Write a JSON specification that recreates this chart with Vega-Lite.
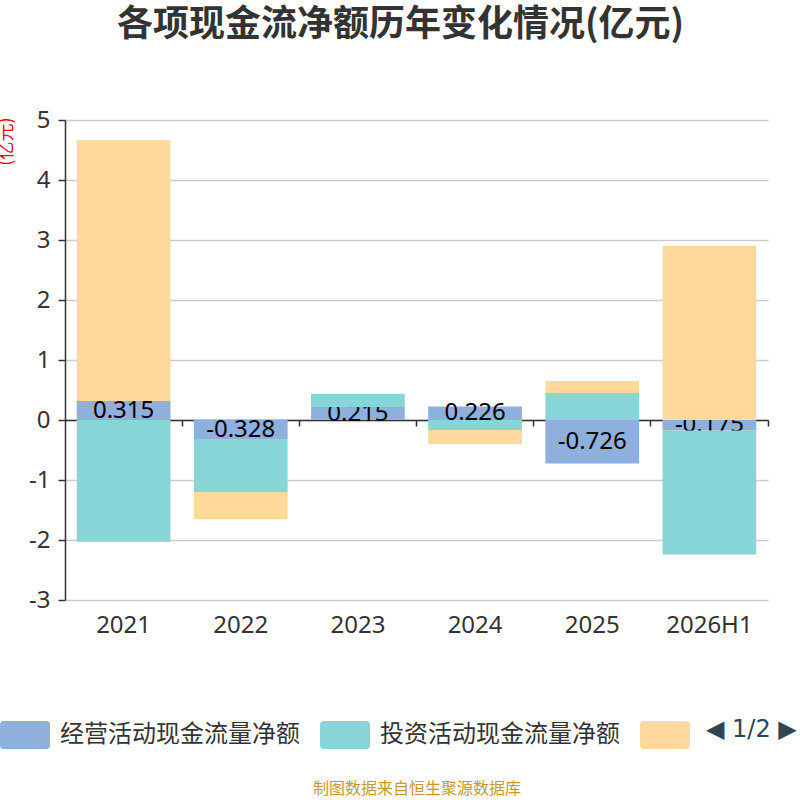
{
  "$schema": "https://vega.github.io/schema/vega-lite/v6.json",
  "width": 703,
  "height": 480,
  "autosize": {"type": "none"},
  "padding": {"left": 65, "top": 120, "right": 32, "bottom": 200},
  "background": "white",
  "view": {"stroke": null},
  "title": {
    "text": "各项现金流净额历年变化情况(亿元)",
    "anchor": "middle",
    "frame": "group",
    "font": "Noto Sans CJK SC",
    "fontSize": 36,
    "fontWeight": "bold",
    "color": "#333333",
    "offset": 64,
    "dx": -16
  },
  "data": {
    "values": [
      {"year": "2021", "type": "经营活动现金流量净额", "seq": 1, "value": 0.315},
      {"year": "2021", "type": "投资活动现金流量净额", "seq": 2, "value": -2.028},
      {"year": "2021", "type": "筹资活动现金流量净额", "seq": 3, "value": 4.347},
      {"year": "2022", "type": "经营活动现金流量净额", "seq": 1, "value": -0.328},
      {"year": "2022", "type": "投资活动现金流量净额", "seq": 2, "value": -0.872},
      {"year": "2022", "type": "筹资活动现金流量净额", "seq": 3, "value": -0.455},
      {"year": "2023", "type": "经营活动现金流量净额", "seq": 1, "value": 0.215},
      {"year": "2023", "type": "投资活动现金流量净额", "seq": 2, "value": 0.223},
      {"year": "2023", "type": "筹资活动现金流量净额", "seq": 3, "value": 0},
      {"year": "2024", "type": "经营活动现金流量净额", "seq": 1, "value": 0.226},
      {"year": "2024", "type": "投资活动现金流量净额", "seq": 2, "value": -0.167},
      {"year": "2024", "type": "筹资活动现金流量净额", "seq": 3, "value": -0.238},
      {"year": "2025", "type": "经营活动现金流量净额", "seq": 1, "value": -0.726},
      {"year": "2025", "type": "投资活动现金流量净额", "seq": 2, "value": 0.45},
      {"year": "2025", "type": "筹资活动现金流量净额", "seq": 3, "value": 0.2},
      {"year": "2026H1", "type": "经营活动现金流量净额", "seq": 1, "value": -0.175},
      {"year": "2026H1", "type": "投资活动现金流量净额", "seq": 2, "value": -2.065},
      {"year": "2026H1", "type": "筹资活动现金流量净额", "seq": 3, "value": 2.905}
    ]
  },
  "transform": [
    {
      "stack": "value",
      "groupby": ["year"],
      "sort": [{"field": "seq", "order": "ascending"}],
      "as": ["v0", "v1"]
    },
    {"calculate": "(datum.v0 + datum.v1) / 2", "as": "mid"}
  ],
  "layer": [
    {
      "transform": [{"filter": "datum.seq == 1"}],
      "mark": {"type": "bar"},
      "encoding": {
        "x": {
          "field": "year",
          "type": "nominal",
          "sort": null,
          "scale": {"paddingInner": 0.2, "paddingOuter": 0.1},
          "title": "制图数据来自恒生聚源数据库",
          "axis": {
            "orient": "bottom",
            "domain": false,
            "ticks": false,
            "labelAngle": 0,
            "labelFont": "Noto Sans",
            "labelFontSize": 24,
            "labelColor": "#333333",
            "labelPadding": 13,
            "titleFont": "Noto Sans CJK SC",
            "titleFontSize": 16,
            "titleFontWeight": "normal",
            "titleColor": "#c9972a",
            "titlePadding": 143
          }
        },
        "y": {
          "field": "v0",
          "type": "quantitative",
          "title": "(亿元)",
          "scale": {"domain": [-3, 5], "nice": false},
          "axis": {
            "values": [-3, -2, -1, 0, 1, 2, 3, 4, 5],
            "labelExpr": "datum.value + ''",
            "labelFont": "Noto Sans",
            "labelFontSize": 24,
            "labelColor": "#333333",
            "labelPadding": 8,
            "tickSize": 7,
            "tickColor": "#333333",
            "tickWidth": 1.5,
            "domainColor": "#333333",
            "domainWidth": 1.5,
            "gridColor": "#cccccc",
            "gridWidth": 1.5,
            "titleFont": "Noto Sans CJK SC",
            "titleFontSize": 18,
            "titleFontWeight": "normal",
            "titleColor": "#ff0000",
            "titleAngle": -90,
            "titleAnchor": "end",
            "titleAlign": "right",
            "titleBaseline": "middle",
            "titleX": -59,
            "titleY": -3
          }
        },
        "y2": {"field": "v1"},
        "color": {
          "field": "type",
          "type": "nominal",
          "scale": {
            "domain": ["经营活动现金流量净额", "投资活动现金流量净额", "筹资活动现金流量净额"],
            "range": ["#8fafdc", "#88d5d8", "#fed99b"]
          },
          "legend": {
            "orient": "none",
            "legendX": -65,
            "legendY": 590,
            "direction": "horizontal",
            "padding": 0,
            "symbolType": "M-0.84,-0.56H0.84Q1,-0.56 1,-0.4V0.4Q1,0.56 0.84,0.56H-0.84Q-1,0.56 -1,0.4V-0.4Q-1,-0.56 -0.84,-0.56Z",
            "symbolSize": 2500,
            "symbolStrokeWidth": 0,
            "symbolOpacity": 1,
            "labelFont": "Noto Sans CJK SC",
            "labelFontSize": 24,
            "labelColor": "#333333",
            "labelOffset": 10,
            "labelLimit": 400,
            "labelExpr": "datum.label == '筹资活动现金流量净额' ? '' : datum.label",
            "columnPadding": 20,
            "title": "◀ 1/2 ▶",
            "titleOrient": "right",
            "titleFont": "DejaVu Sans",
            "titleFontSize": 24,
            "titleFontWeight": "normal",
            "titleColor": "#2f4554",
            "titlePadding": 6
          }
        }
      }
    },
    {
      "transform": [{"filter": "datum.seq == 1"}],
      "mark": {
        "type": "text",
        "font": "Noto Sans",
        "fontSize": 24,
        "color": "#000000",
        "baseline": "middle",
        "align": "center"
      },
      "encoding": {
        "x": {
          "field": "year",
          "type": "nominal",
          "sort": null,
          "title": null,
          "axis": {
            "orient": "bottom",
            "labels": false,
            "domain": true,
            "domainColor": "#333333",
            "domainWidth": 1.5,
            "ticks": true,
            "tickSize": 6,
            "tickColor": "#333333",
            "tickWidth": 1.5,
            "bandPosition": 1.125,
            "offset": -180,
            "grid": false
          }
        },
        "y": {"field": "mid", "type": "quantitative", "title": "(亿元)"},
        "text": {"field": "value", "type": "nominal"}
      }
    },
    {
      "transform": [{"filter": "datum.seq > 1"}],
      "mark": {"type": "bar"},
      "encoding": {
        "x": {"field": "year", "type": "nominal", "sort": null, "axis": null},
        "y": {"field": "v0", "type": "quantitative", "title": "(亿元)"},
        "y2": {"field": "v1"},
        "color": {"field": "type", "type": "nominal"}
      }
    }
  ],
  "resolve": {"axis": {"x": "independent"}}
}
